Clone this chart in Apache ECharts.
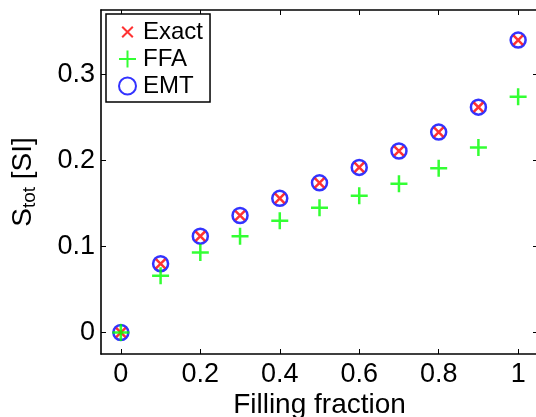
<!DOCTYPE html>
<html>
<head>
<meta charset="utf-8">
<script src="https://cdn.jsdelivr.net/npm/echarts@6/dist/echarts.min.js"></script>
<style>
  html, body { margin: 0; padding: 0; background: #fff; }
  #chart { width: 536px; height: 417px; }
</style>
</head>
<body>
<div id="chart"></div>
<script>
// filling fraction and the three models
var fraction = [0, 0.1, 0.2, 0.3, 0.4, 0.5, 0.6, 0.7, 0.8, 0.9, 1];
var exactVals = [0, 0.080, 0.112, 0.136, 0.156, 0.174, 0.192, 0.211, 0.233, 0.262, 0.340];
var ffaVals = [0, 0.066, 0.093, 0.112, 0.130, 0.145, 0.159, 0.173, 0.191, 0.215, 0.274];
var emtVals = [0, 0.080, 0.112, 0.136, 0.156, 0.174, 0.192, 0.211, 0.233, 0.262, 0.340];
var xTicks = [0, 0.2, 0.4, 0.6, 0.8, 1];
var yTicks = [0, 0.1, 0.2, 0.3];

function pairs(xs, ys) {
    var out = [];
    for (var i = 0; i < xs.length; i++) {
        out.push([xs[i], ys[i]]);
    }
    return out;
}

var font = 'Liberation Sans, Arial, Helvetica, sans-serif';
var crossPath = 'path://M0,0M16,16M3,3L13,13M13,3L3,13';
var plusPath = 'path://M8,0L8,16M0,8L16,8';

var myChart = echarts.init(document.getElementById('chart'));

var axisLine = { show: true, onZero: false, lineStyle: { color: '#000', width: 1.6 } };
var tickStyle = { color: '#000', width: 1 };
var option = {
    animation: false,
    backgroundColor: '#fff',
    grid: { left: 101, top: 10, right: -2, bottom: 63, containLabel: false, outerBoundsMode: 'none' },
    legend: {
        orient: 'vertical',
        left: 106,
        top: 14,
        padding: [6, 7, 4, 12],
        itemGap: 3,
        itemWidth: 17,
        itemHeight: 17,
        borderColor: '#000',
        borderWidth: 1.5,
        backgroundColor: '#fff',
        textStyle: { fontFamily: font, fontSize: 24, color: '#000', padding: [0, 0, 0, 2] },
        data: ['Exact', 'FFA', 'EMT']
    },
    xAxis: [{
        type: 'value',
        min: -0.05,
        max: 1.05,
        name: 'Filling fraction',
        nameLocation: 'middle',
        nameGap: 37,
        nameMoveOverlap: false,
        nameTextStyle: { fontFamily: font, fontSize: 28, color: '#000' },
        axisLine: axisLine,
        axisTick: { show: true, inside: true, length: 5, customValues: xTicks, lineStyle: tickStyle },
        axisLabel: { show: true, margin: 7, customValues: xTicks, fontFamily: font, fontSize: 27, color: '#000',
            formatter: function (v) { return String(+v.toFixed(1)); } },
        splitLine: { show: false }
    }, {
        type: 'value',
        position: 'top',
        min: -0.05,
        max: 1.05,
        axisLine: axisLine,
        axisTick: { show: true, inside: true, length: 5, customValues: xTicks, lineStyle: tickStyle },
        axisLabel: { show: false },
        splitLine: { show: false }
    }],
    yAxis: [{
        type: 'value',
        min: -0.025,
        max: 0.375,
        name: '{a|S}{b|tot}{a| [SI]}',
        nameLocation: 'middle',
        nameGap: 62,
        nameMoveOverlap: false,
        nameTextStyle: {
            fontFamily: font, color: '#000',
            rich: {
                a: { fontFamily: font, fontSize: 28, lineHeight: 30, verticalAlign: 'top', color: '#000' },
                b: { fontFamily: font, fontSize: 19, lineHeight: 19, verticalAlign: 'bottom', padding: [20, 0, 0, 0], color: '#000' }
            }
        },
        axisLine: axisLine,
        axisTick: { show: true, inside: true, length: 5, customValues: yTicks, lineStyle: tickStyle },
        axisLabel: { show: true, margin: 6, customValues: yTicks, fontFamily: font, fontSize: 27, color: '#000',
            formatter: function (v) { return String(+v.toFixed(1)); } },
        splitLine: { show: false }
    }, {
        type: 'value',
        position: 'right',
        min: -0.025,
        max: 0.375,
        axisLine: axisLine,
        axisTick: { show: true, inside: true, length: 5, customValues: yTicks, lineStyle: tickStyle },
        axisLabel: { show: false },
        splitLine: { show: false }
    }],
    series: [
        {
            name: 'Exact',
            type: 'scatter',
            z: 3,
            symbol: crossPath,
            symbolSize: 15,
            itemStyle: { color: 'transparent', borderColor: '#ff0000', borderWidth: 2.5 },
            data: pairs(fraction, exactVals)
        },
        {
            name: 'FFA',
            type: 'scatter',
            z: 4,
            symbol: plusPath,
            symbolSize: 17,
            itemStyle: { color: 'transparent', borderColor: '#00ff00', borderWidth: 2.5 },
            data: pairs(fraction, ffaVals)
        },
        {
            name: 'EMT',
            type: 'scatter',
            z: 2,
            symbol: 'circle',
            symbolSize: 15,
            itemStyle: { color: 'transparent', borderColor: '#0000ff', borderWidth: 2.5 },
            data: pairs(fraction, emtVals)
        }
    ]
};
myChart.setOption(option);
</script>
</body>
</html>
